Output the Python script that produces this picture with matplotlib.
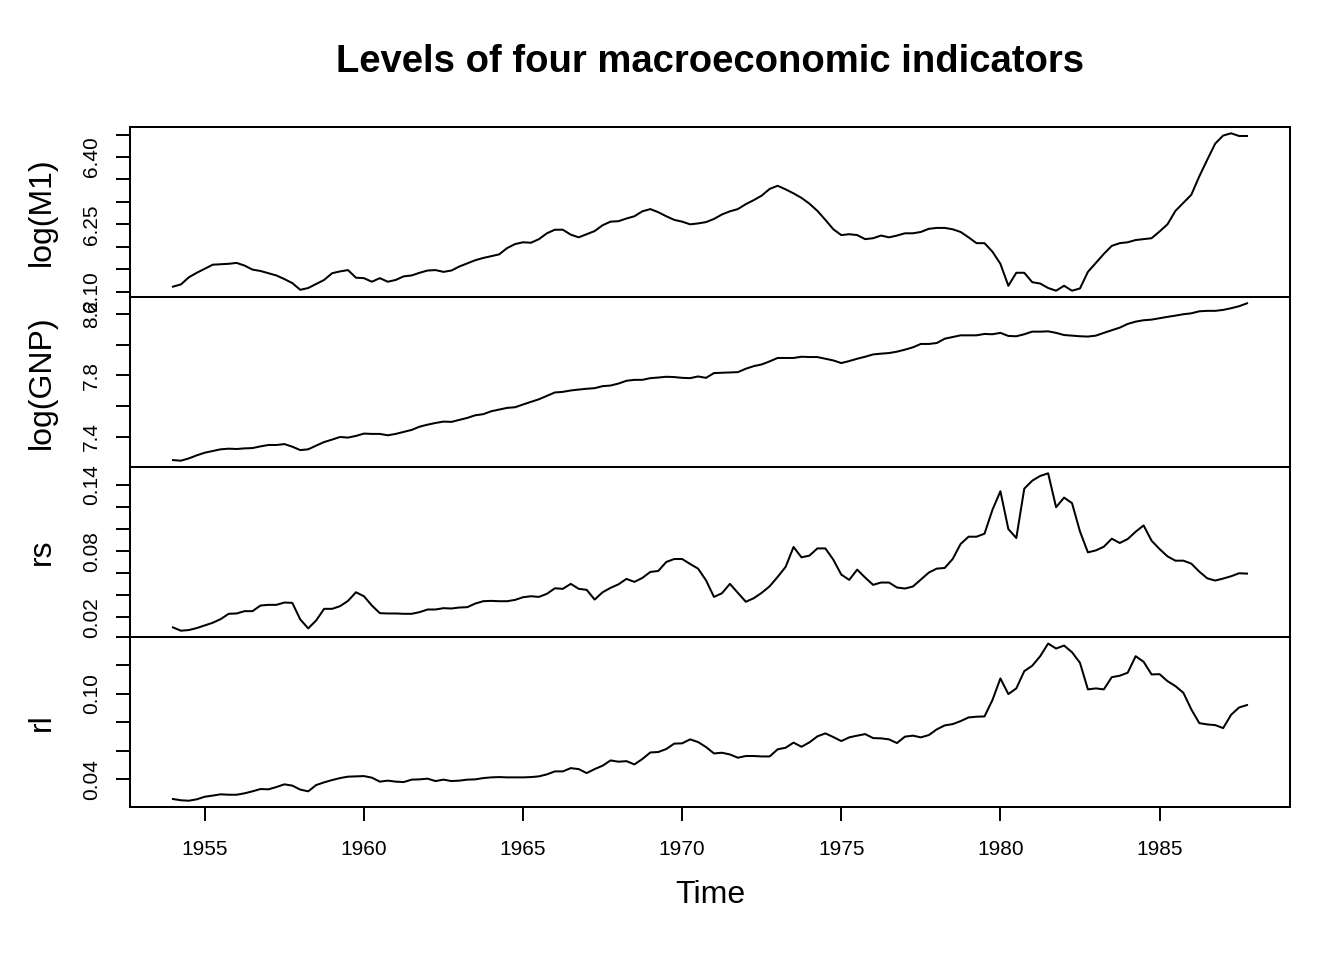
import matplotlib
matplotlib.use('Agg')
import matplotlib.pyplot as plt
import numpy as np

# quarterly data, 1954 Q1 - 1987 Q4
start_year = 1954
freq = 4

log_m1 = [
    6.111, 6.116, 6.132, 6.142, 6.151, 6.160, 6.161, 6.162, 6.164, 6.158,
    6.149, 6.146, 6.141, 6.136, 6.128, 6.119, 6.104, 6.108, 6.117, 6.126,
    6.141, 6.145, 6.148, 6.131, 6.130, 6.122, 6.130, 6.122, 6.126, 6.134,
    6.136, 6.142, 6.147, 6.148, 6.144, 6.147, 6.156, 6.163, 6.170, 6.175,
    6.179, 6.183, 6.197, 6.206, 6.210, 6.209, 6.217, 6.230, 6.238, 6.238,
    6.227, 6.221, 6.228, 6.235, 6.248, 6.256, 6.257, 6.263, 6.268, 6.279,
    6.284, 6.277, 6.268, 6.260, 6.256, 6.250, 6.252, 6.255, 6.262, 6.272,
    6.279, 6.284, 6.295, 6.304, 6.314, 6.329, 6.336, 6.328, 6.319, 6.309,
    6.296, 6.280, 6.260, 6.239, 6.226, 6.228, 6.226, 6.217, 6.219, 6.225,
    6.221, 6.225, 6.230, 6.230, 6.233, 6.240, 6.242, 6.242, 6.239, 6.233,
    6.221, 6.208, 6.208, 6.189, 6.162, 6.113, 6.142, 6.142, 6.121, 6.118,
    6.108, 6.102, 6.113, 6.102, 6.107, 6.144, 6.164, 6.184, 6.202, 6.208,
    6.210, 6.215, 6.217, 6.219, 6.234, 6.250, 6.280, 6.298, 6.316, 6.357,
    6.394, 6.430, 6.448, 6.453, 6.447, 6.447,
]

log_gnp = [
    7.250, 7.246, 7.261, 7.281, 7.298, 7.309, 7.320, 7.324, 7.322, 7.326,
    7.328, 7.339, 7.348, 7.348, 7.354, 7.337, 7.315, 7.320, 7.344, 7.367,
    7.383, 7.400, 7.396, 7.407, 7.422, 7.420, 7.420, 7.411, 7.420, 7.433,
    7.446, 7.467, 7.480, 7.491, 7.500, 7.498, 7.511, 7.524, 7.541, 7.548,
    7.567, 7.578, 7.589, 7.593, 7.611, 7.628, 7.645, 7.667, 7.689, 7.693,
    7.702, 7.708, 7.713, 7.717, 7.730, 7.734, 7.747, 7.765, 7.771, 7.771,
    7.782, 7.786, 7.791, 7.789, 7.784, 7.782, 7.793, 7.784, 7.815, 7.817,
    7.819, 7.821, 7.843, 7.860, 7.871, 7.891, 7.913, 7.913, 7.913, 7.921,
    7.919, 7.919, 7.908, 7.897, 7.880, 7.893, 7.908, 7.921, 7.936, 7.941,
    7.945, 7.954, 7.967, 7.982, 8.004, 8.004, 8.010, 8.038, 8.049, 8.060,
    8.060, 8.060, 8.069, 8.067, 8.076, 8.056, 8.054, 8.067, 8.084, 8.084,
    8.086, 8.076, 8.062, 8.058, 8.054, 8.052, 8.058, 8.076, 8.093, 8.110,
    8.134, 8.149, 8.158, 8.162, 8.171, 8.180, 8.188, 8.197, 8.203, 8.216,
    8.219, 8.219, 8.225, 8.236, 8.249, 8.268,
]

rs = [
    0.0110, 0.0080, 0.0086, 0.0104, 0.0128, 0.0152, 0.0185, 0.0233, 0.0236, 0.0257,
    0.0257, 0.0308, 0.0314, 0.0314, 0.0335, 0.0332, 0.0182, 0.0101, 0.0173, 0.0278,
    0.0278, 0.0302, 0.0350, 0.0428, 0.0392, 0.0308, 0.0239, 0.0236, 0.0236, 0.0233,
    0.0233, 0.0248, 0.0272, 0.0272, 0.0284, 0.0281, 0.0290, 0.0293, 0.0326, 0.0347,
    0.0350, 0.0347, 0.0347, 0.0359, 0.0383, 0.0392, 0.0386, 0.0414, 0.0464, 0.0459,
    0.0504, 0.0459, 0.0450, 0.0362, 0.0428, 0.0468, 0.0500, 0.0549, 0.0522, 0.0558,
    0.0612, 0.0621, 0.0702, 0.0729, 0.0729, 0.0684, 0.0642, 0.0536, 0.0386, 0.0419,
    0.0504, 0.0423, 0.0342, 0.0374, 0.0423, 0.0482, 0.0567, 0.0657, 0.0838, 0.0744,
    0.0760, 0.0825, 0.0825, 0.0723, 0.0588, 0.0540, 0.0633, 0.0561, 0.0495, 0.0516,
    0.0516, 0.0471, 0.0462, 0.0480, 0.0543, 0.0606, 0.0642, 0.0648, 0.0729, 0.0865,
    0.0931, 0.0931, 0.0958, 0.1174, 0.1343, 0.1000, 0.0919, 0.1366, 0.1438, 0.1481,
    0.1505, 0.1198, 0.1285, 0.1235, 0.0979, 0.0789, 0.0807, 0.0840, 0.0913, 0.0874,
    0.0910, 0.0976, 0.1033, 0.0895, 0.0820, 0.0753, 0.0714, 0.0714, 0.0687, 0.0615,
    0.0554, 0.0534, 0.0552, 0.0573, 0.0600, 0.0597,
]

rl = [
    0.0262, 0.0253, 0.0250, 0.0260, 0.0278, 0.0286, 0.0295, 0.0292, 0.0292, 0.0302,
    0.0316, 0.0332, 0.0330, 0.0346, 0.0365, 0.0356, 0.0328, 0.0316, 0.0360, 0.0379,
    0.0395, 0.0409, 0.0419, 0.0421, 0.0423, 0.0412, 0.0384, 0.0391, 0.0384, 0.0381,
    0.0398, 0.0400, 0.0405, 0.0388, 0.0398, 0.0388, 0.0391, 0.0398, 0.0400, 0.0409,
    0.0414, 0.0416, 0.0414, 0.0414, 0.0414, 0.0416, 0.0421, 0.0435, 0.0456, 0.0456,
    0.0479, 0.0472, 0.0444, 0.0472, 0.0496, 0.0533, 0.0524, 0.0528, 0.0505, 0.0543,
    0.0589, 0.0592, 0.0613, 0.0651, 0.0653, 0.0681, 0.0662, 0.0627, 0.0582, 0.0587,
    0.0575, 0.0552, 0.0564, 0.0564, 0.0561, 0.0561, 0.0611, 0.0622, 0.0658, 0.0629,
    0.0660, 0.0702, 0.0723, 0.0697, 0.0669, 0.0695, 0.0707, 0.0718, 0.0690, 0.0688,
    0.0681, 0.0655, 0.0700, 0.0707, 0.0695, 0.0711, 0.0751, 0.0779, 0.0788, 0.0809,
    0.0835, 0.0840, 0.0842, 0.0957, 0.1109, 0.0999, 0.1039, 0.1160, 0.1198, 0.1265,
    0.1354, 0.1319, 0.1340, 0.1293, 0.1219, 0.1032, 0.1039, 0.1032, 0.1118, 0.1128,
    0.1149, 0.1265, 0.1226, 0.1137, 0.1139, 0.1090, 0.1055, 0.1008, 0.0891, 0.0795,
    0.0786, 0.0781, 0.0760, 0.0854, 0.0905, 0.0922,
]

series_names = ['log(M1)', 'log(GNP)', 'rs', 'rl']

# y ticks and which of them get a label (R drops overlapping ones)
y_ticks = [
    [6.10, 6.15, 6.20, 6.25, 6.30, 6.35, 6.40, 6.45],
    [7.4, 7.6, 7.8, 8.0, 8.2],
    [0.02, 0.04, 0.06, 0.08, 0.10, 0.12, 0.14],
    [0.04, 0.06, 0.08, 0.10, 0.12, 0.14],
]
y_labels = [
    ['6.10', '', '', '6.25', '', '', '6.40', ''],
    ['7.4', '', '7.8', '', '8.2'],
    ['0.02', '', '', '0.08', '', '', '0.14'],
    ['0.04', '', '', '0.10', '', ''],
]
x_ticks = [1955, 1960, 1965, 1970, 1975, 1980, 1985]

plt.rcParams['font.family'] = ['Liberation Sans', 'DejaVu Sans']


def pad_range(lo, hi, frac=0.04):
    d = (hi - lo) * frac
    return lo - d, hi + d


def plot_panel(ax, t, values, name, ticks, labels, show_x):
    ax.plot(t, values, color='black', linewidth=1.45)
    ax.set_xlim(*pad_range(t[0], t[-1]))
    ax.set_ylim(*pad_range(min(values), max(values)))

    ax.set_yticks(ticks)
    ax.set_yticklabels(labels, rotation=90, va='center')
    ax.tick_params(axis='y', length=10, width=1.4, pad=11, labelsize=15)

    if show_x:
        ax.set_xticks(x_ticks)
        ax.set_xticklabels([str(x) for x in x_ticks])
        ax.tick_params(axis='x', length=10, width=1.4, pad=14, labelsize=15)
    else:
        ax.tick_params(axis='x', bottom=False, labelbottom=False)

    for s in ax.spines.values():
        s.set_linewidth(1.45)

    ax.text(-0.0759, 0.5, name, transform=ax.transAxes, rotation=90,
            ha='center', va='center', fontsize=23)


data = [log_m1, log_gnp, rs, rl]
t = start_year + np.arange(len(log_m1)) / freq

fig, axes = plt.subplots(4, 1, figsize=(13.44, 9.6), dpi=100, sharex=False)
fig.subplots_adjust(left=130 / 1344, right=1290 / 1344,
                    top=1 - 127 / 960, bottom=1 - 807 / 960, hspace=0)

for i, ax in enumerate(axes):
    plot_panel(ax, t, data[i], series_names[i], y_ticks[i], y_labels[i], i == 3)

fig.text(710 / 1344, 1 - 62 / 960, 'Levels of four macroeconomic indicators',
         ha='center', va='center', fontsize=27.5, fontweight='bold')
fig.text(710 / 1344, 1 - 895 / 960, 'Time', ha='center', va='center', fontsize=23)

fig.savefig('out.png', dpi=100)
